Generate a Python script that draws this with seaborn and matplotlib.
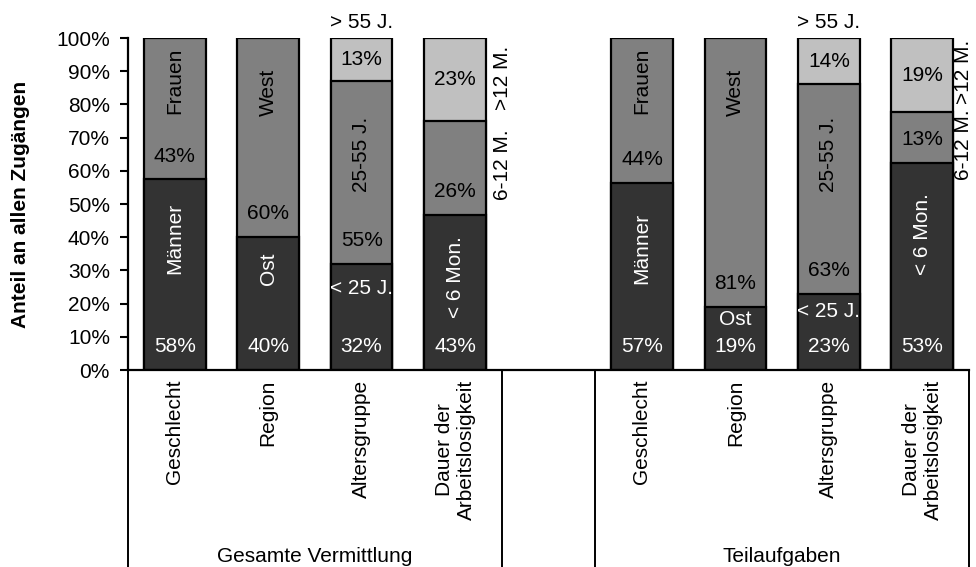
import matplotlib
matplotlib.use("Agg")
import matplotlib.pyplot as plt
import pandas as pd
import seaborn as sns

# groups and categories along the x axis
groups = ["Gesamte Vermittlung", "Teilaufgaben"]
categories = ["Geschlecht", "Region", "Altersgruppe", "Dauer der\nArbeitslosigkeit"]

# printed shares in percent, bottom segment first
gesamt_geschlecht = [58, 43]
gesamt_region = [40, 60]
gesamt_alter = [32, 55, 13]
gesamt_dauer = [43, 26, 23]

teil_geschlecht = [57, 44]
teil_region = [19, 81]
teil_alter = [23, 63, 14]
teil_dauer = [53, 13, 19]

segment_colors = ["#333333", "#808080", "#c0c0c0"]

# segment names: (slot, text, y, rotation, color, x offset)
segment_names = [
    (0, "Männer", 39.7, 90, "white", 0), (0, "Frauen", 87, 90, "black", 0),
    (1, "Ost", 30.6, 90, "white", 0), (1, "West", 83.7, 90, "black", 0),
    (2, "< 25 J.", 24.6, 0, "white", 0), (2, "25-55 J.", 65, 90, "black", 0),
    (2, "> 55 J.", 104.8, 0, "black", 0),
    (3, "< 6 Mon.", 28, 90, "white", 0), (3, "6-12 M.", 61.7, 90, "black", 0.51),
    (3, ">12 M.", 88, 90, "black", 0.51),
    (5, "Männer", 36.7, 90, "white", 0), (5, "Frauen", 87, 90, "black", 0),
    (6, "Ost", 15.3, 0, "white", 0), (6, "West", 83.7, 90, "black", 0),
    (7, "< 25 J.", 17.5, 0, "white", 0), (7, "25-55 J.", 65, 90, "black", 0),
    (7, "> 55 J.", 104.8, 0, "black", 0),
    (8, "< 6 Mon.", 41, 90, "white", 0), (8, "6-12 M.", 68, 90, "black", 0.44),
    (8, ">12 M.", 89.8, 90, "black", 0.44),
]

bars = [gesamt_geschlecht, gesamt_region, gesamt_alter, gesamt_dauer,
        None,
        teil_geschlecht, teil_region, teil_alter, teil_dauer]
slots = [f"s{i}" for i in range(len(bars))]

# long table: cumulative top of each segment, bars scaled to 100 %
rows = []
for slot, vals in zip(slots, bars):
    if vals is None:
        continue
    total = sum(vals)
    cum = 0
    for layer, v in enumerate(vals):
        bottom = cum
        cum += v / total * 100
        rows.append({"slot": slot, "layer": layer, "value": v,
                     "bottom": bottom, "top": cum})
df = pd.DataFrame(rows)

sns.set_style("ticks")
plt.rcParams["font.family"] = ["Liberation Sans", "DejaVu Sans"]
plt.rcParams["text.color"] = "black"
plt.rcParams["axes.labelcolor"] = "black"
plt.rcParams["xtick.color"] = "black"
plt.rcParams["ytick.color"] = "black"
fs = 15

fig = plt.figure(figsize=(9.76, 5.67), dpi=100)
ax = fig.add_axes([128 / 976, 197 / 567, 841 / 976, 332 / 567])

# draw stacked bars from the top layer down
for layer in [2, 1, 0]:
    sub = df[df["layer"] == layer]
    sns.barplot(data=sub, x="slot", y="top", order=slots, color=segment_colors[layer],
                saturation=1, width=0.66, edgecolor="black", linewidth=1.6,
                errorbar=None, ax=ax)

# percentage labels
for _, r in df.iterrows():
    x = slots.index(r["slot"])
    if r["layer"] == 2:
        y = (r["bottom"] + r["top"]) / 2
    else:
        y = r["bottom"] + 7
    col = "white" if r["layer"] == 0 else "black"
    ax.text(x, y, f"{r['value']}%", ha="center", va="center", color=col, fontsize=fs)

# segment names
for slot, txt, y, rot, col, dx in segment_names:
    ax.text(slot + dx, y, txt, ha="center", va="center", rotation=rot,
            color=col, fontsize=fs, clip_on=False)

ax.set_xlim(-0.5, 8.5)
ax.set_ylim(0, 100)
ax.set_yticks(range(0, 101, 10))
ax.set_yticklabels([f"{t}%" for t in range(0, 101, 10)], fontsize=fs)
ax.set_xticks([0, 1, 2, 3, 5, 6, 7, 8])
ax.set_xticklabels(categories + categories, rotation=90, fontsize=fs,
                   multialignment="center")
ax.tick_params(axis="x", length=0, pad=7)
ax.tick_params(axis="y", length=6, width=1.5, pad=7, color="black", labelcolor="black")
ax.set_xlabel("")
ax.set_ylabel("Anteil an allen Zugängen", fontsize=fs, fontweight="bold", color="black")
ax.yaxis.set_label_coords(-0.116, 0.5)

sns.despine(ax=ax)
for side in ["left", "bottom"]:
    ax.spines[side].set_linewidth(1.6)
    ax.spines[side].set_color("black")

# category table below the axis
trans = ax.get_xaxis_transform()
for xl in [-0.5, 3.5, 4.5, 8.5]:
    ax.plot([xl, xl], [0, -0.7], transform=trans, color="black", lw=1.4,
            clip_on=False)
ax.text(1.5, -0.578, groups[0], transform=trans, ha="center", va="baseline", fontsize=fs)
ax.text(6.5, -0.578, groups[1], transform=trans, ha="center", va="baseline", fontsize=fs)

fig.savefig("out.png", dpi=100)
